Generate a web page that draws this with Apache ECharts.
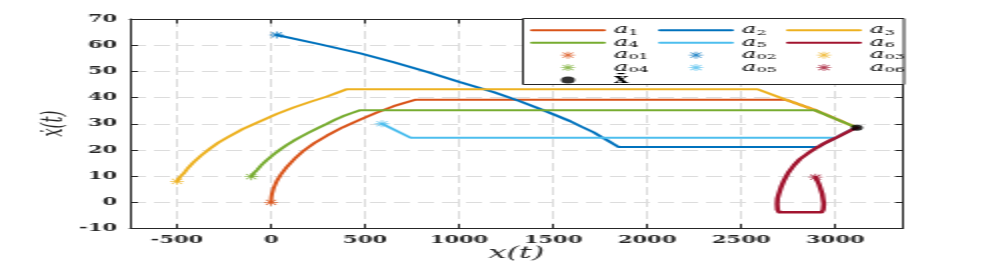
<!DOCTYPE html>
<html><head><meta charset="utf-8">
<script src="https://cdn.jsdelivr.net/npm/echarts@6/dist/echarts.min.js"></script>
<style>
html,body{margin:0;padding:0;background:#fff;overflow:hidden;}
#wrap{width:997px;height:262px;overflow:hidden;}
#c{width:498.5px;height:262px;transform:scaleX(2);transform-origin:0 0;}
</style></head><body><div id="wrap"><div id="c"></div></div>
<script>
// ---- tick labels ----
const xTicks = [-500, 0, 500, 1000, 1500, 2000, 2500, 3000];
const yTicks = [-10, 0, 10, 20, 30, 40, 50, 60, 70];

// ---- trajectories (x, xdot) ----
const a1X = [0, 2, 5, 15, 32, 55, 85, 125, 173, 230, 298, 380, 475, 560, 652, 710, 770, 2736, 2890, 3115];
const a1Y = [0, 2, 3.2, 5.6, 8.3, 10.9, 13.6, 16.6, 19.7, 22.6, 25.5, 28.6, 31.6, 34.2, 36.7, 38.0, 39.2, 39.2, 35.3, 28.5];

const a2X = [30, 250, 475, 650, 830, 1000, 1184, 1320, 1450, 1590, 1650, 1716, 1760, 1790, 1820, 1849, 2910, 2939, 3011, 3082, 3115];
const a2Y = [63.9, 60.5, 56.9, 53.5, 49.8, 46, 42.1, 38.7, 35.1, 31, 28.9, 26.7, 24.8, 23.6, 22.3, 21.1, 21.1, 22.4, 24.9, 27.5, 28.5];

const a3X = [-500, -490, -480, -465, -440, -412, -370, -323, -280, -234, -150, -57, 30, 120, 210, 298, 350, 404, 2587, 2736, 2890, 3115];
const a3Y = [8.0, 9, 10, 11, 13.2, 15.3, 18, 20.6, 22.8, 24.7, 28, 31, 33.7, 36.2, 38.4, 40.4, 41.8, 43.2, 43.2, 39.2, 35.3, 28.5];

const a4X = [-105, -100, -90, -75, -50, -25, -4, 25, 50, 85, 120, 160, 200, 250, 298, 340, 380, 430, 475, 2890, 3115];
const a4Y = [9.8, 10.3, 11.3, 12.3, 14.3, 16, 17.2, 18.9, 20.2, 21.9, 23.5, 25.1, 26.6, 28.4, 30, 31.5, 32.8, 34.1, 35.2, 35.2, 28.5];

const a5X = [590, 741, 3005, 3011, 3082, 3115];
const a5Y = [30.0, 24.7, 24.7, 24.9, 27.5, 28.5];

const a6X = [2895, 2913, 2931, 2939, 2936, 2928, 2702, 2693, 2691, 2693, 2700, 2712, 2727, 2750, 2780, 2812, 2851, 2895, 2939, 2975, 3011, 3050, 3082, 3115];
const a6Y = [9.6, 7.0, 3.2, -0.6, -2.8, -3.8, -3.8, -2.8, -0.6, 1.5, 3.2, 5.8, 8.3, 11.3, 14.1, 16.5, 18.5, 20.6, 22.4, 23.7, 24.9, 26.3, 27.5, 28.5];

// ---- initial points and equilibrium ----
const startNames = ['a01', 'a02', 'a03', 'a04', 'a05', 'a06'];
const startX = [0, 30, -500, -105, 590, 2895];
const startY = [0, 63.9, 8.0, 9.8, 30.0, 9.6];
const xbarX = [3115];
const xbarY = [28.5];

const lineNames = ['a1', 'a2', 'a3', 'a4', 'a5', 'a6'];
const colors = ['#D95319', '#0072BD', '#EDB120', '#77AC30', '#4DBEEE', '#A2142F'];
const widths = [2, 2, 2, 2, 2, 2.5];

const pairs = (xs, ys) => xs.map((x, i) => [x, ys[i]]);
const lineData = [pairs(a1X, a1Y), pairs(a2X, a2Y), pairs(a3X, a3Y), pairs(a4X, a4Y), pairs(a5X, a5Y), pairs(a6X, a6Y)];

const star = 'path://M0 8.8H20V11.2H0Z M8.8 0H11.2V20H8.8Z M1.8 3.5L3.5 1.8L18.2 16.5L16.5 18.2Z M16.5 1.8L18.2 3.5L3.5 18.2L1.8 16.5Z';

const series = [];
lineNames.forEach((n, i) => {
  series.push({
    name: n, type: 'line', data: lineData[i], symbol: 'none', showSymbol: false, smooth: false,
    lineStyle: { color: colors[i], width: widths[i], join: 'round', cap: 'round' }, itemStyle: { color: colors[i] },
    z: 2 + i * 0.01, animation: false
  });
});
startNames.forEach((n, i) => {
  series.push({
    name: n, type: 'scatter', data: [[startX[i], startY[i]]], symbol: star, symbolSize: 7,
    itemStyle: { color: colors[i] }, z: 3, animation: false
  });
});
series.push({
  name: 'xbar', type: 'scatter', data: pairs(xbarX, xbarY), symbol: 'circle', symbolSize: 6,
  itemStyle: { color: '#000' }, z: 3, animation: false
});

const labelTxt = {
  a1: '{a|a}{s|1}', a2: '{a|a}{s|2}', a3: '{a|a}{s|3}', a4: '{a|a}{s|4}', a5: '{a|a}{s|5}', a6: '{a|a}{s|6}',
  a01: '{a|a}{s|01}', a02: '{a|a}{s|02}', a03: '{a|a}{s|03}', a04: '{a|a}{s|04}', a05: '{a|a}{s|05}', a06: '{a|a}{s|06}',
  xbar: '{x|x̄}'
};
const rich = {
  a: { fontFamily: 'DejaVu Serif', fontStyle: 'italic', fontSize: 12, lineHeight: 12.45, color: '#000' },
  s: { fontFamily: 'DejaVu Serif', fontSize: 8, lineHeight: 8, verticalAlign: 'bottom', color: '#000' },
  x: { fontFamily: 'DejaVu Serif', fontWeight: 'bold', fontSize: 12, lineHeight: 12.45, color: '#000' }
};
const legendItem = n => (lineNames.indexOf(n) >= 0 ? { name: n, itemStyle: { opacity: 0 } } : { name: n });
const legendBase = (data, left) => ({
  data: data.map(legendItem), left: left, top: 24, orient: 'vertical', padding: 0,
  itemWidth: 36, itemHeight: 7, itemGap: 0, selectedMode: false, z: 6,
  formatter: n => labelTxt[n], textStyle: { rich: rich, lineHeight: 12.45 }
});

const tickFont = { fontFamily: 'DejaVu Serif', fontWeight: 'bold', fontSize: 10.5, color: '#262626', formatter: v => String(v) };
const axLine = { show: true, onZero: false, lineStyle: { color: '#262626', width: 1 } };

const chart = echarts.init(document.getElementById('c'), null, { renderer: 'canvas' });
chart.setOption({
  animation: false,
  backgroundColor: '#fff',
  grid: { left: 65, right: 47.5, top: 19, bottom: 33.5, containLabel: false, outerBoundsMode: 'none' },
  xAxis: [{
    type: 'value', min: -750, max: 3360, position: 'bottom',
    axisLine: axLine,
    axisTick: { show: true, inside: true, length: 4.5, customValues: xTicks, lineStyle: { color: '#262626' } },
    axisLabel: Object.assign({ customValues: xTicks, margin: 6.5 }, tickFont),
    splitLine: { show: true, lineStyle: { type: [8, 4], color: '#dcdcdc', width: 1 } },
    name: 'x(t)', nameLocation: 'middle', nameGap: 17, nameMoveOverlap: false,
    nameTextStyle: { fontFamily: 'DejaVu Serif', fontStyle: 'italic', fontSize: 16, color: '#262626' }
  }, {
    type: 'value', min: -750, max: 3360, position: 'top',
    axisLine: axLine,
    axisTick: { show: true, inside: true, length: 4.5, customValues: xTicks, lineStyle: { color: '#262626' } },
    axisLabel: { show: false }, splitLine: { show: false }
  }],
  yAxis: [{
    type: 'value', min: -10, max: 70, interval: 10, position: 'left',
    axisLine: axLine,
    axisTick: { show: true, inside: true, length: 4, lineStyle: { color: '#262626' } },
    axisLabel: Object.assign({ margin: 6.5 }, tickFont),
    splitLine: { show: true, lineStyle: { type: [8, 4], color: '#dcdcdc', width: 1 } },
    name: 'ẋ(t)', nameLocation: 'middle', nameGap: 30, nameRotate: 90, nameMoveOverlap: false,
    nameTextStyle: { fontFamily: 'DejaVu Serif', fontStyle: 'italic', fontSize: 15, color: '#262626' }
  }, {
    type: 'value', min: -10, max: 70, interval: 10, position: 'right',
    axisLine: axLine,
    axisTick: { show: true, inside: true, length: 4, lineStyle: { color: '#262626' } },
    axisLabel: { show: false }, splitLine: { show: false }
  }],
  legend: [
    legendBase(['a1', 'a4', 'a01', 'a04', 'xbar'], 265),
    legendBase(['a2', 'a5', 'a02', 'a05'], 329),
    legendBase(['a3', 'a6', 'a03', 'a06'], 393)
  ],
  graphic: [{
    type: 'rect', left: 261, top: 18, z: 5,
    shape: { width: 190.5, height: 66 },
    style: { fill: '#fff', stroke: '#262626', lineWidth: 1 }
  }],
  series: series
});
</script></body></html>
